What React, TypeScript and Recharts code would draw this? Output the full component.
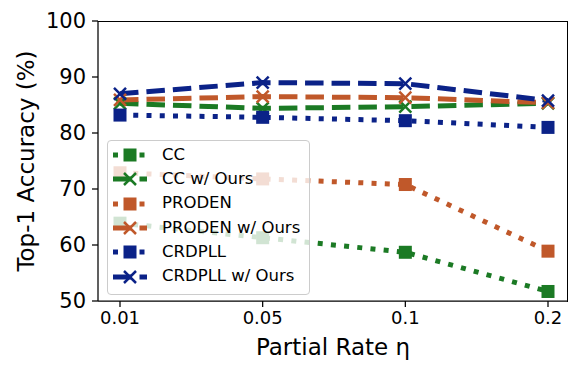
import React from 'react';
import { LineChart, Line, XAxis, YAxis } from 'recharts';

const rates = ['0.01', '0.05', '0.1', '0.2'];
const cc = [63.9, 61.3, 58.7, 51.7];
const ccOurs = [85.3, 84.4, 84.7, 85.3];
const proden = [72.9, 71.8, 70.8, 58.9];
const prodenOurs = [85.9, 86.5, 86.3, 85.4];
const crdpll = [83.2, 82.8, 82.2, 81.0];
const crdpllOurs = [87.0, 89.0, 88.8, 85.8];
const yTicks = [50, 60, 70, 80, 90, 100];

const GREEN = '#1b7a24';
const ORANGE = '#c0582a';
const BLUE = '#0b2288';
const FONT = '"DejaVu Sans", sans-serif';

const data = rates.map((r, i) => ({
  rate: r,
  cc: cc[i],
  ccOurs: ccOurs[i],
  proden: proden[i],
  prodenOurs: prodenOurs[i],
  crdpll: crdpll[i],
  crdpllOurs: crdpllOurs[i],
}));

const DOTTED = '5 8.25';
const DASHED = '18.5 8';

type SeriesDef = { key: string; name: string; color: string; ours: boolean };
const series: SeriesDef[] = [
  { key: 'cc', name: 'CC', color: GREEN, ours: false },
  { key: 'ccOurs', name: 'CC w/ Ours', color: GREEN, ours: true },
  { key: 'proden', name: 'PRODEN', color: ORANGE, ours: false },
  { key: 'prodenOurs', name: 'PRODEN w/ Ours', color: ORANGE, ours: true },
  { key: 'crdpll', name: 'CRDPLL', color: BLUE, ours: false },
  { key: 'crdpllOurs', name: 'CRDPLL w/ Ours', color: BLUE, ours: true },
];

const Marker = ({ cx, cy, color, ours }: { cx: number; cy: number; color: string; ours: boolean }) => {
  if (ours) {
    const s = 6;
    return (
      <g>
        <line x1={cx - s} y1={cy - s} x2={cx + s} y2={cy + s} stroke={color} strokeWidth={2.5} />
        <line x1={cx - s} y1={cy + s} x2={cx + s} y2={cy - s} stroke={color} strokeWidth={2.5} />
      </g>
    );
  }
  const h = 6.5;
  return <rect x={cx - h} y={cy - h} width={h * 2} height={h * 2} fill={color} />;
};

const LegendBox = () => (
  <div
    style={{
      position: 'absolute',
      left: 107,
      top: 140,
      background: 'rgba(255,255,255,0.8)',
      border: '1px solid #cccccc',
      borderRadius: 4,
      padding: '2px 8px 5px 5px',
      fontFamily: FONT,
      fontSize: 16.5,
      color: '#000',
      width: 203,
      boxSizing: 'border-box',
      textAlign: 'left',
    }}
  >
    {series.map((s) => (
      <div key={s.key} style={{ display: 'flex', alignItems: 'center', height: 24.3 }}>
        <svg width={34} height={20} style={{ display: 'block', flex: 'none' }}>
          <line
            x1={0}
            y1={10}
            x2={34}
            y2={10}
            stroke={s.color}
            strokeWidth={5}
            strokeDasharray={s.ours ? DASHED : DOTTED}
          />
          <Marker cx={17} cy={10} color={s.color} ours={s.ours} />
        </svg>
        <span style={{ marginLeft: 15, lineHeight: 1, whiteSpace: 'nowrap' }}>{s.name}</span>
      </div>
    ))}
  </div>
);

export default function App() {
  return (
    <div style={{ position: 'absolute', left: 0, top: 0, width: 581, height: 373, background: '#fff' }}>
      <LineChart
        width={581}
        height={373}
        data={data}
        margin={{ top: 21, right: 13, bottom: 0, left: 0 }}
      >
        <XAxis
          dataKey="rate"
          type="category"
          height={72}
          padding={{ left: 22, right: 20 }}
          axisLine={{ stroke: '#000', strokeWidth: 1.25 }}
          tickLine={{ stroke: '#000', strokeWidth: 1.25 }}
          tickSize={6}
          tickMargin={4}
          tick={{ fill: '#000', fontSize: 18, fontFamily: FONT }}
          interval={0}
          label={() => (
            <text x={333} y={355} textAnchor="middle" fontSize={23} fontFamily={FONT} fill="#000">
              Partial Rate η
            </text>
          )}
        />
        <YAxis
          domain={[50, 100]}
          ticks={yTicks}
          width={98}
          allowDataOverflow
          axisLine={{ stroke: '#000', strokeWidth: 1.25 }}
          tickLine={{ stroke: '#000', strokeWidth: 1.25 }}
          tickSize={6}
          tickMargin={6}
          tick={{ fill: '#000', fontSize: 21, fontFamily: FONT }}
          label={() => (
            <text
              x={26}
              y={161}
              transform="rotate(-90 26 161)"
              textAnchor="middle"
              dominantBaseline="central"
              fontSize={23}
              fontFamily={FONT}
              fill="#000"
            >
              Top-1 Accuracy (%)
            </text>
          )}
        />
        {series.map((s) => (
          <Line
            key={s.key}
            dataKey={s.key}
            name={s.name}
            type="linear"
            stroke={s.color}
            strokeWidth={5}
            strokeDasharray={s.ours ? DASHED : DOTTED}
            isAnimationActive={false}
            activeDot={false}
            dot={(p: any) => (
              <Marker key={`${s.key}-${p.index}`} cx={p.cx} cy={p.cy} color={s.color} ours={s.ours} />
            )}
          />
        ))}
      </LineChart>
      <LegendBox />
      <div
        style={{
          position: 'absolute',
          left: 98,
          top: 21,
          width: 470,
          height: 281,
          borderTop: '1.25px solid #000',
          borderRight: '1.25px solid #000',
          boxSizing: 'border-box',
          pointerEvents: 'none',
        }}
      />
    </div>
  );
}
